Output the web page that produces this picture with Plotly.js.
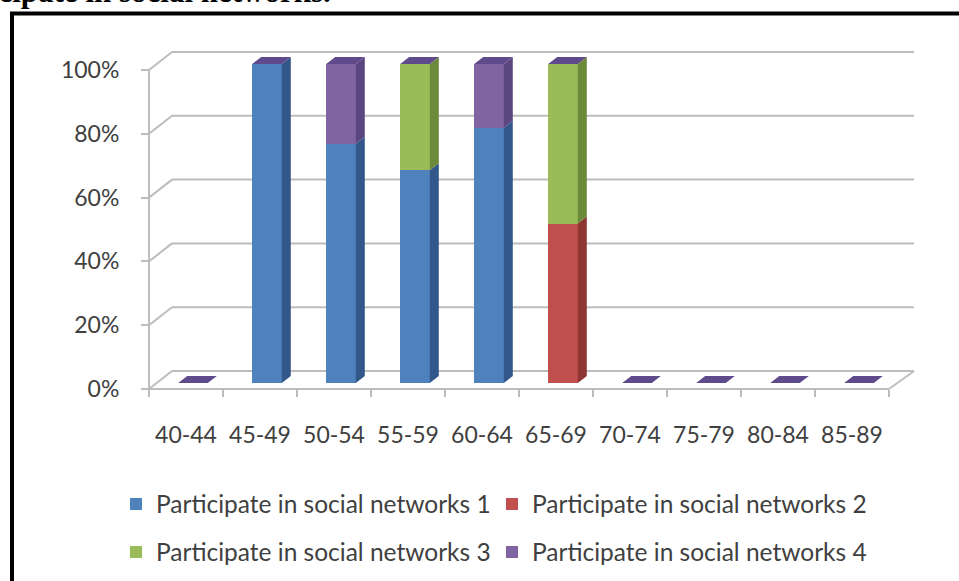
<!DOCTYPE html>
<html>
<head>
<meta charset="utf-8">
<script src="https://cdn.plot.ly/plotly-3.0.1.min.js"></script>
<style>
  html, body { margin: 0; padding: 0; background: #fff; overflow: hidden; }
  #chart { width: 959px; height: 581px; }
</style>
</head>
<body>
<div id="chart"></div>
<script>
// Age groups and share (%) of each social-network participation level
const ageGroups = ['40-44', '45-49', '50-54', '55-59', '60-64', '65-69', '70-74', '75-79', '80-84', '85-89'];
const network1 = [0, 100, 75, 66.7, 80, 0, 0, 0, 0, 0];
const network2 = [0, 0, 0, 0, 0, 50, 0, 0, 0, 0];
const network3 = [0, 0, 0, 33.3, 0, 50, 0, 0, 0, 0];
const network4 = [0, 0, 25, 0, 20, 0, 0, 0, 0, 0];
const seriesNames = [
  'Participate in social networks 1',
  'Participate in social networks 2',
  'Participate in social networks 3',
  'Participate in social networks 4'
];
const yTickValues = [0, 20, 40, 60, 80, 100];
const yTickLabels = ['0%', '20%', '40%', '60%', '80%', '100%'];

// ---- styling / geometry ----
const frontColors = ['#4F81BD', '#C0504D', '#9BBB59', '#8064A2'];
const sideColors  = ['#33578A', '#8E3633', '#6C8A3A', '#5C4680'];
const topColor = '#5F4B8C';
const gridColor = '#BDBDBD';
const textColor = '#404040';
const tickFont = { family: 'Lato, "Open Sans", sans-serif', size: 23, color: textColor };
const legendFont = { family: 'Lato, "Open Sans", sans-serif', size: 24.5, color: textColor };

const M = { l: 120, r: 29, t: 40, b: 161, autoexpand: false };
const plotW = 959 - M.l - M.r;   // 810
const plotH = 581 - M.t - M.b;   // 380
const catPx = 74;                // pixels per category
const valPx = 3.19;              // pixels per percentage point
const firstBarPx = 193 - M.l;    // centre of first bar from plot left
const zeroPx = 383 - M.t;        // 0% of the bars from plot top

const xRange = [-firstBarPx / catPx, (plotW - firstBarPx) / catPx];
const yRange = [-(plotH - zeroPx) / valPx, zeroPx / valPx];

// 3-D depth offsets expressed in axis units
const depthX = 9 / catPx;
const depthY = 7 / valPx;
const barWidth = 0.4;

// wall / floor placement in axis units
const backY = 12 / valPx;
const frontY = -6 / valPx;
const backX0 = -21 / catPx, backX1 = 721 / catPx;
const frontX0 = -44 / catPx, frontX1 = 696 / catPx;

const idx = ageGroups.map((_, i) => i);
const series = [network1, network2, network3, network4];

const traces = series.map((vals, s) => ({
  type: 'bar',
  name: seriesNames[s],
  x: idx,
  y: vals,
  width: barWidth,
  marker: { color: frontColors[s], line: { width: 0 } },
  legend: s < 2 ? 'legend' : 'legend2',
  hoverinfo: 'skip'
}));

// empty carriers so the front category axis and front value axis get drawn
traces.push({ type: 'scatter', mode: 'none', x: idx, y: idx.map(() => null), xaxis: 'x2', yaxis: 'y', showlegend: false, hoverinfo: 'skip' });
traces.push({ type: 'scatter', mode: 'none', x: yTickValues.map(() => null), y: yTickValues, xaxis: 'x', yaxis: 'y2', showlegend: false, hoverinfo: 'skip' });

const shapes = [];
const line = (x0, y0, x1, y1) => ({
  type: 'line', xref: 'x', yref: 'y', x0, y0, x1, y1, layer: 'below',
  line: { color: gridColor, width: 2 }
});

// back wall gridlines and their links to the front axis
yTickValues.forEach(v => {
  shapes.push(line(backX0, v + backY, backX1, v + backY));
  shapes.push(line(frontX0, v + frontY, backX0, v + backY));
});
// front value axis, front floor edge and right floor edge
shapes.push(line(frontX0, frontY, frontX0, 100 + frontY));
shapes.push(line(frontX0, frontY, frontX1, frontY));
shapes.push(line(frontX1, frontY, backX1, backY));

const poly = (pts, color) => ({
  type: 'path', xref: 'x', yref: 'y', layer: 'above',
  path: 'M' + pts.map(p => p[0] + ',' + p[1]).join('L') + 'Z',
  fillcolor: color, line: { width: 0 }
});

// side faces of every stacked segment, then the cap on each stack
idx.forEach(i => {
  const x1 = i + barWidth / 2;
  const x0 = i - barWidth / 2;
  let base = 0;
  series.forEach((vals, s) => {
    const v = vals[i];
    if (v > 0) {
      shapes.push(poly([
        [x1, base], [x1 + depthX, base + depthY],
        [x1 + depthX, base + v + depthY], [x1, base + v]
      ], sideColors[s]));
    }
    base += v;
  });
  shapes.push(poly([
    [x0, base], [x1, base], [x1 + depthX, base + depthY], [x0 + depthX, base + depthY]
  ], topColor));
});

// outer frame
shapes.push({
  type: 'rect', xref: 'paper', yref: 'paper',
  x0: (12 - M.l) / plotW, x1: 1.3,
  y0: -0.8, y1: (M.t + plotH - 13.5) / plotH,
  line: { color: '#000', width: 4 }, fillcolor: 'rgba(0,0,0,0)', layer: 'above'
});

const legendBase = {
  orientation: 'h', xref: 'paper', yref: 'paper',
  x: -4 / plotW, xanchor: 'left', yanchor: 'middle',
  entrywidth: 331, entrywidthmode: 'pixels',
  font: legendFont, bgcolor: 'rgba(0,0,0,0)', traceorder: 'normal'
};

const layout = {
  width: 959, height: 581,
  margin: M,
  paper_bgcolor: '#fff', plot_bgcolor: 'rgba(0,0,0,0)',
  barmode: 'stack',
  showlegend: true,
  xaxis: { range: xRange, showgrid: false, zeroline: false, showticklabels: false, ticks: '', fixedrange: true },
  yaxis: { range: yRange, showgrid: false, zeroline: false, showticklabels: false, ticks: '', fixedrange: true },
  xaxis2: {
    overlaying: 'x', anchor: 'free', position: (plotH - (389 - M.t)) / plotH,
    range: [-(186 - M.l) / catPx, (plotW - (186 - M.l)) / catPx],
    tickmode: 'array', tickvals: idx, ticktext: ageGroups,
    ticks: '', showgrid: false, zeroline: false, showline: false,
    minor: { tickmode: 'array', tickvals: idx.concat([idx.length]).map(i => i - 0.5), ticks: 'outside', ticklen: 7, tickwidth: 2, tickcolor: gridColor },
    ticklabelstandoff: 30, tickfont: tickFont, fixedrange: true
  },
  yaxis2: {
    overlaying: 'y', anchor: 'free', side: 'left', position: (149 - M.l) / plotW,
    range: [-(plotH - (389 - M.t)) / valPx, (389 - M.t) / valPx],
    tickmode: 'array', tickvals: yTickValues, ticktext: yTickLabels,
    ticks: 'outside', ticklen: 8, tickwidth: 2, tickcolor: gridColor,
    showgrid: false, zeroline: false, showline: false,
    ticklabelstandoff: 17, tickfont: tickFont, fixedrange: true
  },
  legend: Object.assign({}, legendBase, { y: (M.t + plotH - 504) / plotH }),
  legend2: Object.assign({}, legendBase, { y: (M.t + plotH - 552) / plotH }),
  shapes: shapes,
  annotations: [{
    text: 'participate in social networks.',
    xref: 'paper', yref: 'paper',
    x: (333 - M.l) / plotW, xanchor: 'right',
    y: (M.t + plotH - 11) / plotH, yanchor: 'bottom',
    showarrow: false,
    font: { family: '"Liberation Serif", "Times New Roman", serif', size: 31, color: '#000', weight: 'bold' }
  }]
};

Plotly.newPlot('chart', traces, layout, { staticPlot: true, displayModeBar: false });
</script>
</body>
</html>
